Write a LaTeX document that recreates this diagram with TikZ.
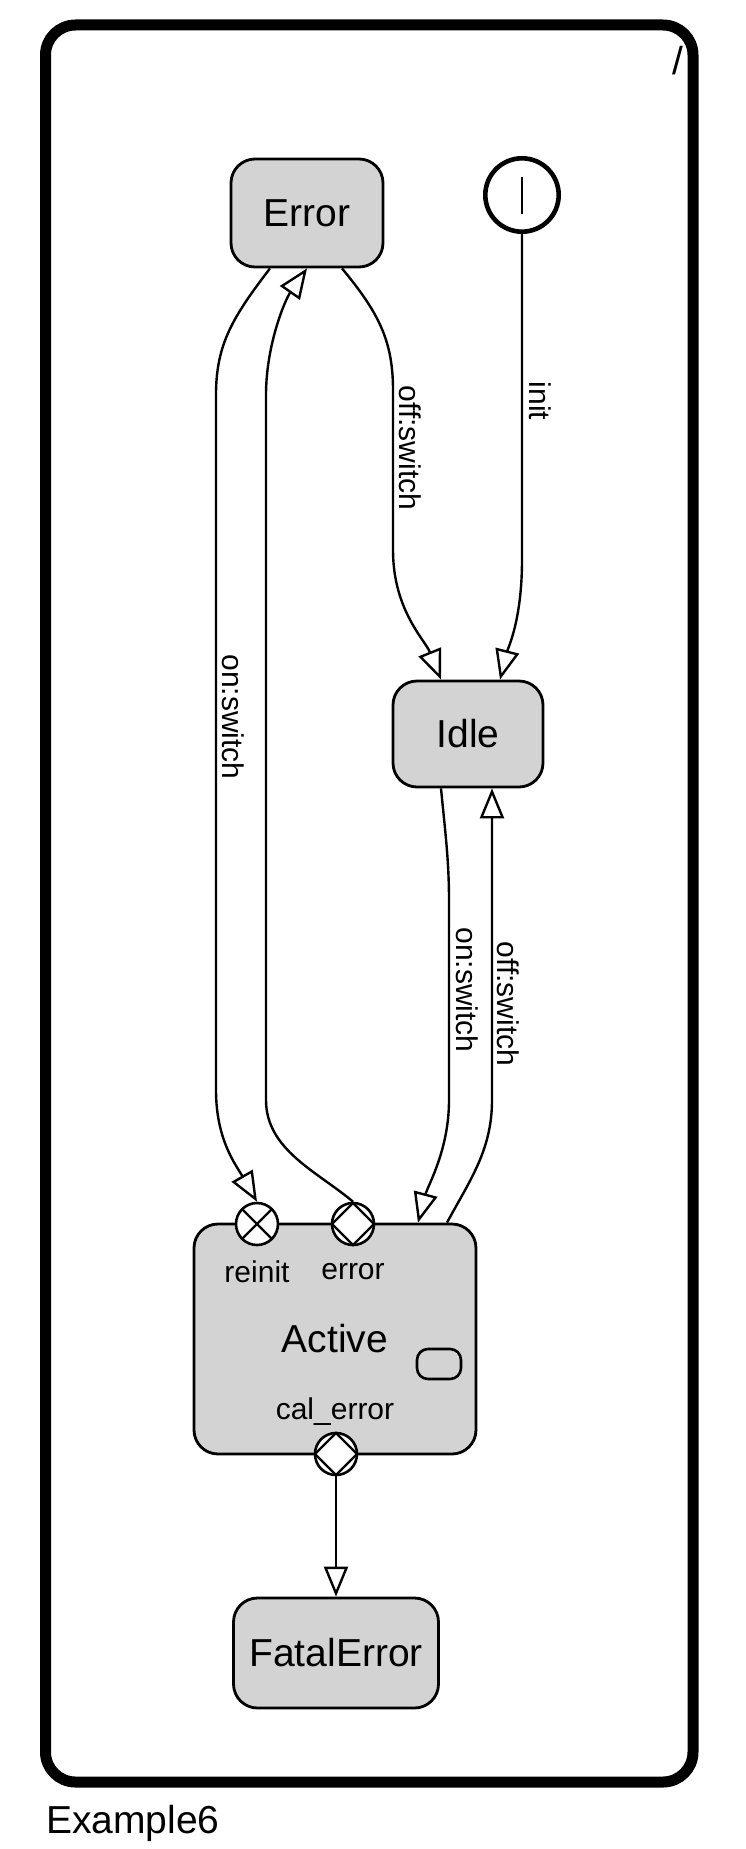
\documentclass[tikz,border=0pt]{standalone}
\usepackage{fontspec}
\setmainfont{Liberation Sans}
\usetikzlibrary{arrows.meta,calc}
\definecolor{boxgray}{HTML}{D3D3D3}
\begin{document}
\begin{tikzpicture}[x=1pt,y=-1pt,
  bigfont/.style={font=\fontsize{39}{39}\selectfont},
  state/.style={draw, line width=2.8pt, fill=boxgray, rounded corners=24pt, inner sep=0pt, bigfont},
  port/.style={circle, draw, line width=2.6pt, fill=white, minimum size=42pt, inner sep=0pt},
  lbl/.style={font=\fontsize{30}{30}\selectfont, inner sep=0pt},
  conn/.style={line width=2.4pt, -{Triangle[length=30pt,width=24pt,fill=white,line width=2.4pt]}},
  vlbl/.style={lbl, rotate=-90}
]
\useasboundingbox (0,0) rectangle (745,1849);
% outer frame
\node[draw, line width=11pt, rounded corners=30pt, minimum width=647.5pt, minimum height=1757pt, inner sep=0pt] (frame) at (369.25,903.5) {};
\node[bigfont, inner sep=0pt, anchor=base] (slash) at (678,75) {/};
\node[bigfont, inner sep=0pt, anchor=base west] (title) at (46,1833) {Example6};

% states
\node[state, minimum width=152pt, minimum height=108pt] (Error) at (307,213) {Error};
\node[state, minimum width=150pt, minimum height=106pt] (Idle) at (468,734) {Idle};
\node[state, minimum width=282pt, minimum height=230pt] (Active) at (335,1339) {Active};
\node[state, minimum width=205pt, minimum height=110pt] (Fatal) at (336,1653) {FatalError};

% initial pseudo state
\node[circle, draw, line width=4.6pt, fill=white, minimum size=73.4pt, inner sep=0pt] (init) at (522,195) {};
\draw[line width=2.4pt] ($(init)+(0,-18)$) -- ($(init)+(0,19)$);

% decomposition icon
\node[draw, line width=2.6pt, rounded corners=11pt, minimum width=44pt, minimum height=30pt, inner sep=0pt] (decomp) at (439,1364) {};

% ports
\node[port] (reinit) at (257,1224) {};
\draw[line width=2.4pt] ($(reinit)+(-15,-15)$) -- ($(reinit)+(15,15)$);
\draw[line width=2.4pt] ($(reinit)+(-15,15)$) -- ($(reinit)+(15,-15)$);
\node[port] (errp) at (353,1224) {};
\draw[line width=2.4pt] ($(errp)+(0,-21)$) -- ($(errp)+(21,0)$) -- ($(errp)+(0,21)$) -- ($(errp)+(-21,0)$) -- cycle;
\node[port] (calp) at (336,1454) {};
\draw[line width=2.4pt] ($(calp)+(0,-21)$) -- ($(calp)+(21,0)$) -- ($(calp)+(0,21)$) -- ($(calp)+(-21,0)$) -- cycle;

\node[lbl] (reinitl) at (257,1272) {reinit};
\node[lbl] (errl) at (353,1272) {error};
\node[lbl] (call) at (335,1412) {cal\_error};

% connectors
\draw[conn] ($(Error.south)+(-37,0)$) .. controls (232,318) and (216,345) .. (216,395)
  -- (216,1090) .. controls (216,1140) and (236,1165) .. (reinit.north);
\node[vlbl] (l1) at (233,717) {on:switch};

\draw[conn] (errp.north) .. controls (318,1172) and (266,1150) .. (266,1100)
  -- (266,395) .. controls (266,345) and (285,300) .. (Error.south);

\draw[conn] ($(Error.south)+(35,0)$) .. controls (378,312) and (393,340) .. (393,390)
  -- (393,550) .. controls (393,610) and (425,640) .. ($(Idle.north)+(-27,0)$);
\node[vlbl] (l2) at (410,448) {off:switch};

\draw[conn] (init.south) -- (522,560) .. controls (522,620) and (508,648) .. ($(Idle.north)+(32,0)$);
\node[vlbl] (l3) at (540,401) {init};

\draw[conn] ($(Idle.south)+(-27,0)$) .. controls (445,830) and (449,860) .. (449,900)
  -- (449,1100) .. controls (449,1150) and (428,1185) .. ($(Active.north)+(83,0)$);
\node[vlbl] (l4) at (467,990) {on:switch};

\draw[conn] ($(Active.north)+(112,0)$) .. controls (470,1180) and (492,1150) .. (492,1100)
  -- ($(Idle.south)+(24,0)$);
\node[vlbl] (l5) at (508,1004) {off:switch};

\draw[conn] (calp.south) -- (Fatal.north);
\end{tikzpicture}
\end{document}
